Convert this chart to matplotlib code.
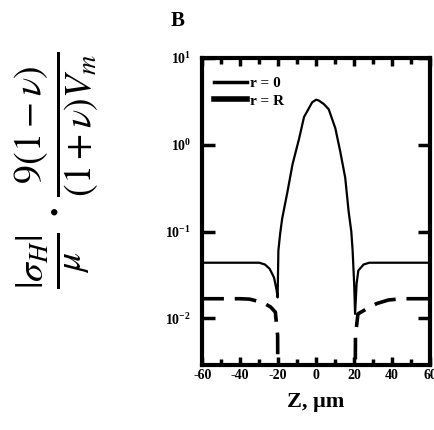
import matplotlib
matplotlib.use('Agg')
import matplotlib.pyplot as plt
import numpy as np

plt.rcParams['font.family'] = ['Liberation Serif', 'DejaVu Serif']
plt.rcParams['mathtext.fontset'] = 'stix'
plt.rcParams['axes.unicode_minus'] = False

# r = 0 curve, z (um) and log10 of normalized stress
z_r0 = [-60, -30, -27, -24.5, -22.2, -20.8, -20.3, -19.9, -19.0, -17.9, -15.1, -12.5,
        -9.0, -6.4, -2.1, 0, 1.4, 4, 6.6, 10.1, 12.7, 15.3, 17.1, 18.5, 19.2, 20.0,
        20.5, 21.3, 22.2, 25, 28, 47, 60]
log_r0 = [-1.36, -1.36, -1.38, -1.43, -1.53, -1.68, -1.76, -1.22, -1.03, -0.85, -0.54, -0.23,
          0.07, 0.32, 0.49, 0.52, 0.51, 0.47, 0.41, 0.19, -0.08, -0.38, -0.77, -1.0, -1.22, -1.6,
          -1.95, -1.6, -1.45, -1.38, -1.36, -1.36, -1.36]

# r = R curve
z_rR = [-60, -40, -35, -28, -24, -21.5, -20.3, -20.1, 20.5, 20.7, 22, 26.7, 32, 38, 45, 60]
log_rR = [-1.775, -1.775, -1.78, -1.82, -1.87, -1.93, -2.2, -3.0, -3.0, -2.2, -1.95, -1.89,
          -1.83, -1.79, -1.775, -1.775]

x_ticks = [-60, -40, -20, 0, 20, 40, 60]
y_ticks = [1e-2, 1e-1, 1e0, 1e1]

fig = plt.figure(figsize=(4.34, 4.30), dpi=100)
ax = fig.add_axes([0.466, 0.151, 0.525, 0.714])

ax.plot(z_r0, 10 ** np.array(log_r0), color='black', lw=1.6, label='r = 0')
ax.plot(z_rR, 10 ** np.array(log_rR), color='black', lw=2.6, ls=(0, (6, 3)), label='r = R')

ax.set_yscale('log')
ax.set_xlim(-60, 60)
ax.set_ylim(10 ** -2.54, 10 ** 0.98)
ax.set_xticks(x_ticks)
ax.set_xticks(np.arange(-60, 61, 10), minor=True)
ax.set_yticks(y_ticks)
ax.yaxis.set_minor_locator(matplotlib.ticker.NullLocator())
ax.tick_params(which='major', direction='in', length=6, width=2.5, top=True, right=True,
               labelsize=10, pad=3)
ax.tick_params(axis='y', which='major', length=9, pad=8)
ax.tick_params(which='minor', direction='in', length=4, width=2.5, top=True, right=False)
for lab in ax.get_xticklabels() + ax.get_yticklabels():
    lab.set_fontweight('bold')
for s in ax.spines.values():
    s.set_linewidth(3)

ax.set_xlabel('Z, μm', fontsize=16, fontweight='bold', labelpad=7)

leg = ax.legend(loc='upper left', frameon=False, fontsize=11, handlelength=2.1,
                handletextpad=0.2, labelspacing=0.25, borderaxespad=0.4,
                bbox_to_anchor=(0.0, 0.98))
for t in leg.get_texts():
    t.set_fontweight('bold')
leg.get_lines()[0].set_linewidth(2.5)
leg.get_lines()[1].set_linestyle('-')
leg.get_lines()[1].set_linewidth(4)

fig.text(0.393, 0.94, 'B', fontsize=15, fontweight='heavy')

fig.text(0.131, 0.605,
         r'$\frac{|\sigma_H|}{\mu}\cdot\frac{9\left(1-\nu\right)}{\left(1+\nu\right)V_m}$',
         rotation=90, ha='center', va='center', fontsize=39)

fig.savefig('out.png', dpi=100)
